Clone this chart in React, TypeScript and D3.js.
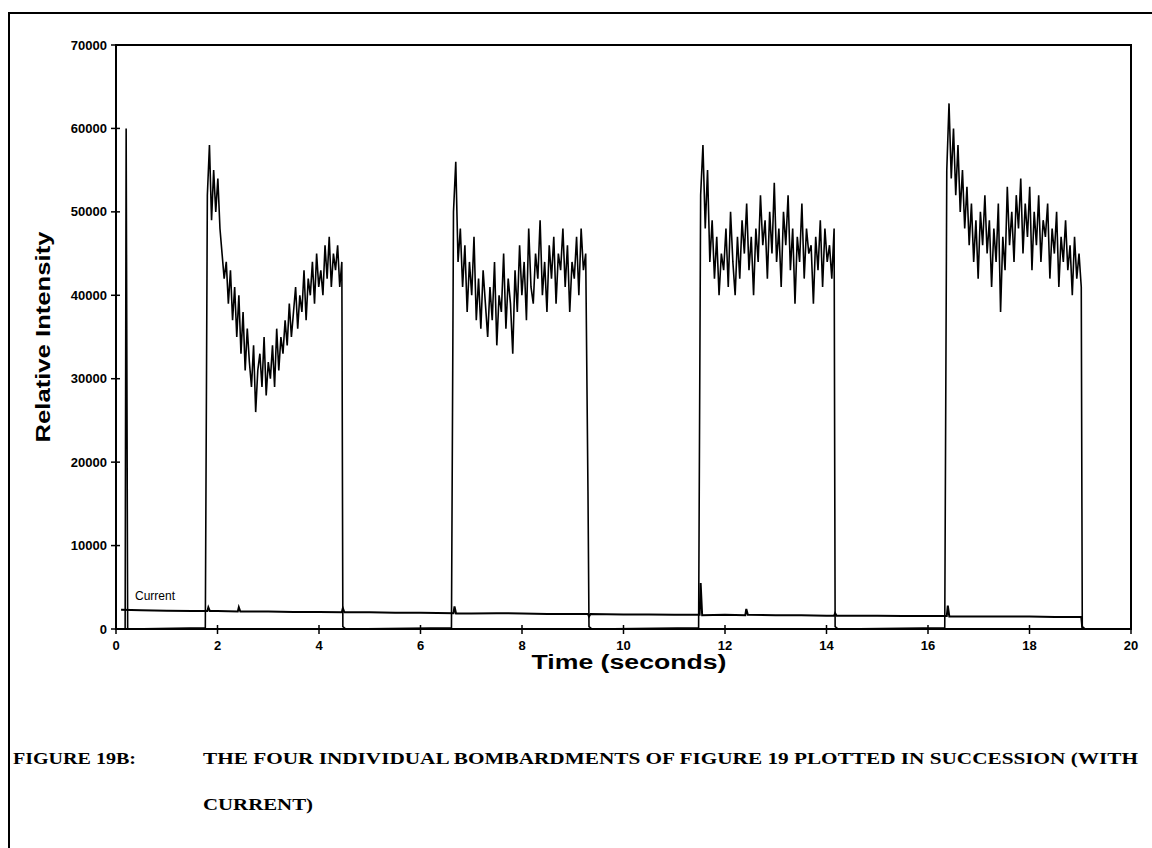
import React from "react";
import * as d3 from "d3";

const xTicks = [0, 2, 4, 6, 8, 10, 12, 14, 16, 18, 20];
const yTicks = [0, 10000, 20000, 30000, 40000, 50000, 60000, 70000];

const burstStarts = [1.8, 6.65, 11.52, 16.37];
const burstEnds = [4.45, 9.3, 14.15, 19.02];

const burst1 = [52000,58000,49000,55000,50000,54000,48000,45000,42000,44000,39000,43000,37000,41000,35000,40000,33000,38000,31000,36000,32000,29000,34000,26000,31000,33000,29000,35000,28000,32000,30000,34000,29000,36000,31000,35000,33000,37000,34000,39000,35000,38000,41000,36000,40000,38000,43000,37000,42000,40000,44000,39000,45000,41000,43000,40000,46000,42000,47000,41000,45000,43000,46000,41000,44000];
const burst2 = [50000,56000,44000,48000,41000,46000,38000,44000,40000,47000,37000,42000,36000,43000,39000,35000,41000,37000,44000,34000,40000,38000,45000,36000,42000,39000,33000,43000,38000,46000,40000,44000,37000,48000,41000,39000,45000,42000,49000,40000,44000,38000,46000,42000,47000,39000,45000,43000,48000,41000,46000,38000,44000,42000,47000,40000,48000,43000,45000,16500];
const burst3 = [52000,58000,48000,55000,44000,49000,42000,47000,40000,45000,43000,48000,41000,50000,44000,40000,47000,42000,49000,45000,51000,43000,47000,40000,48000,44000,52000,46000,49000,42000,50000,45000,53500,44000,48000,41000,50000,46000,52000,43000,48000,39000,47000,44000,51000,42000,48000,45000,46000,39000,47000,43000,49000,41000,48000,44000,46000,42000,48000];
const burst4 = [55000,63000,54000,60000,52000,58000,50000,55000,48000,53000,46000,51000,44000,49000,42000,50000,46000,52000,45000,49000,41000,48000,44000,51000,38000,47000,43000,53000,46000,50000,44000,52000,48000,54000,45000,51000,47000,53000,43000,50000,46000,52000,44000,49000,47000,51000,42000,48000,45000,50000,41000,47000,44000,49000,43000,46000,40000,47000,42000,45000,41000];

const currentTimes = [0.1,0.5,1,1.5,1.8,1.82,1.85,2,2.4,2.42,2.45,3,3.5,4,4.45,4.47,4.5,5,5.5,6,6.65,6.67,6.7,7,7.5,8,8.5,9,9.3,9.32,9.35,10,10.5,11,11.5,11.52,11.55,12,12.4,12.42,12.45,13,13.5,14,14.15,14.17,14.2,15,15.5,16,16.37,16.39,16.42,17,17.5,18,18.5,19,19.02,19.04];
const currentVals = [2300,2250,2200,2150,2150,2600,2150,2150,2100,2600,2100,2100,2050,2050,2000,2500,2000,2000,1950,1950,1900,2700,1850,1850,1900,1850,1800,1800,1800,1500,1800,1750,1750,1700,1700,5500,1650,1700,1650,2400,1700,1650,1650,1600,1600,1900,1600,1600,1550,1550,1550,2800,1500,1500,1500,1500,1450,1450,1450,100];

export default function App() {
  const W = 1152, H = 848;
  const m = { l: 116, r: 1131, t: 45, b: 629 };
  const x = d3.scaleLinear().domain([0, 20]).range([m.l, m.r]);
  const y = d3.scaleLinear().domain([0, 70000]).range([m.b, m.t]);
  const pts: [number, number][] = [[0.02, 0], [0.18, 0], [0.2, 60000], [0.23, 0]];
  const bursts = [burst1, burst2, burst3, burst4];
  bursts.forEach((b, k) => {
    const s = burstStarts[k], e = burstEnds[k];
    pts.push([s - 0.04, 150]);
    b.forEach((v, i) => pts.push([s + (i * (e - s)) / (b.length - 1), v]));
    pts.push([e + 0.02, 300]);
    pts.push([e + 0.08, 0]);
  });
  const line = d3.line<[number, number]>().x(d => x(d[0])).y(d => y(d[1]));
  const cur = d3.line<number>().x((_, i) => x(currentTimes[i])).y(d => y(d));
  const font = "Arial, 'Liberation Sans', sans-serif";
  const serif = "'Liberation Serif', 'Times New Roman', serif";
  return (
    <svg width={W} height={H} style={{ display: "block", position: "absolute", left: 0, top: 0 }}>
      <rect x={0} y={0} width={W} height={H} fill="#fff" />
      <path d={`M9,${H} V13 H${W}`} fill="none" stroke="#000" strokeWidth={2} />
      <rect x={m.l} y={m.t} width={m.r - m.l} height={m.b - m.t} fill="none" stroke="#000" strokeWidth={2} />
      {yTicks.map(t => (
        <g key={t}>
          <line x1={m.l - 5} x2={m.l + 4} y1={y(t)} y2={y(t)} stroke="#000" strokeWidth={1.5} />
          <text x={m.l - 9} y={y(t) + 4.5} textAnchor="end" fontFamily={font} fontSize={13} fontWeight="bold">{t}</text>
        </g>
      ))}
      {xTicks.map(t => (
        <g key={t}>
          <line x1={x(t)} x2={x(t)} y1={m.b - 4} y2={m.b + 5} stroke="#000" strokeWidth={1.5} />
          <text x={x(t)} y={m.b + 21} textAnchor="middle" fontFamily={font} fontSize={13} fontWeight="bold">{t}</text>
        </g>
      ))}
      <path d={line(pts) || ""} fill="none" stroke="#000" strokeWidth={1.6} />
      <path d={cur(currentVals) || ""} fill="none" stroke="#000" strokeWidth={2} />
      <text x={135} y={600} fontFamily={font} fontSize={12}>Current</text>
      <text x={629} y={669} textAnchor="middle" fontFamily={font} fontSize={20} fontWeight="bold" textLength={195} lengthAdjust="spacingAndGlyphs">Time (seconds)</text>
      <text transform={`translate(50,337) rotate(-90)`} textAnchor="middle" fontFamily={font} fontSize={20} fontWeight="bold" textLength={211} lengthAdjust="spacingAndGlyphs">Relative Intensity</text>
      <text x={13} y={764} fontFamily={serif} fontSize={17} fontWeight="bold" textLength={123} lengthAdjust="spacingAndGlyphs">FIGURE 19B:</text>
      <text x={203} y={764} fontFamily={serif} fontSize={17} fontWeight="bold" textLength={935} lengthAdjust="spacingAndGlyphs">THE FOUR INDIVIDUAL BOMBARDMENTS OF FIGURE 19 PLOTTED IN SUCCESSION (WITH</text>
      <text x={203} y={810} fontFamily={serif} fontSize={17} fontWeight="bold" textLength={110} lengthAdjust="spacingAndGlyphs">CURRENT)</text>
    </svg>
  );
}
